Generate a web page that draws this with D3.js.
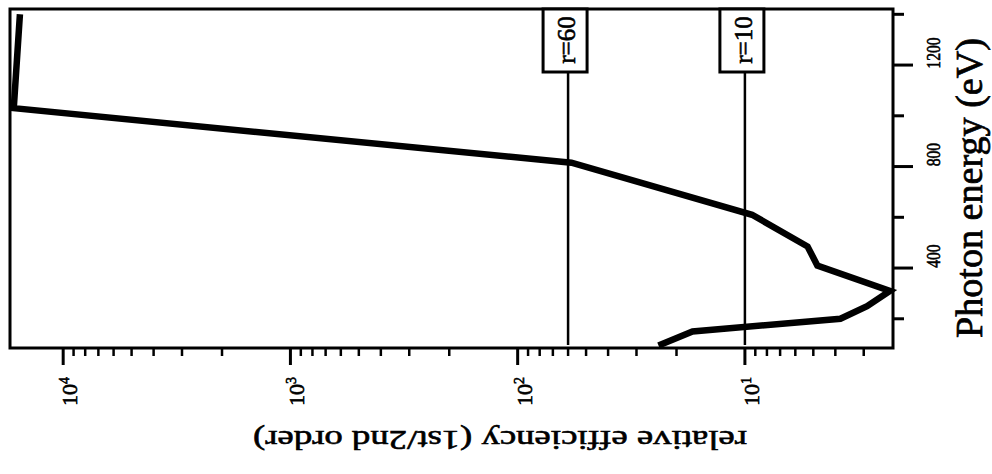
<!DOCTYPE html>
<html><head><meta charset="utf-8">
<script src="https://cdn.jsdelivr.net/npm/d3@7"></script>
<style>body{margin:0;background:#fff}svg{display:block}</style>
</head><body>
<svg id="chart" width="992" height="474"></svg>
<script>
// Ratio of 1st to 2nd order efficiency vs photon energy (plot drawn rotated)
const energy     = [95, 150, 200, 250, 310, 410, 485, 610, 815, 1030, 1400];
const efficiency = [24, 17, 3.8, 2.9, 2.3, 4.8, 5.3, 9.3, 58, 16500, 15500];
const energyTicks  = [200, 400, 600, 800, 1000, 1200, 1400];
const energyLabels = [400, 800, 1200];
const decades = [1, 2, 3, 4];
const markerValues = [60, 10];
const markerLabels = ["r=60", "r=10"];

const svg = d3.select("#chart");
const font = "'Liberation Serif','Times New Roman',serif";

const box = {left: 10, right: 893, top: 9, bottom: 348};

// energy runs vertically, efficiency (log) runs right-to-left
const y = d3.scaleLinear().domain([77, 1417]).range([350, 10]);
const x = d3.scaleLog().domain([17140, 2.23]).range([box.left, box.right]);

// heavier text strokes
function ink(sel, w) {
  return sel.attr("fill", "#000").attr("stroke", "#000").attr("stroke-width", w);
}

// curve
const line = d3.line().x((d, i) => x(efficiency[i])).y(d => y(d));
svg.append("path")
  .attr("d", line(energy))
  .attr("fill", "none").attr("stroke", "#000")
  .attr("stroke-width", 6.5).attr("stroke-linejoin", "miter").attr("stroke-miterlimit", 6);

// frame
svg.append("rect")
  .attr("x", box.left).attr("y", box.top)
  .attr("width", box.right - box.left).attr("height", box.bottom - box.top)
  .attr("fill", "none").attr("stroke", "#000").attr("stroke-width", 3);

// efficiency axis ticks (log, major at decades)
const logTicks = [];
for (let k = 0; k <= 4; k++) {
  for (let m = 1; m <= 9; m++) {
    const v = m * Math.pow(10, k);
    if (v <= 17140 && v >= 2.23) logTicks.push({v, major: m === 1});
  }
}
svg.append("g").selectAll("line").data(logTicks).join("line")
  .attr("x1", d => x(d.v)).attr("x2", d => x(d.v))
  .attr("y1", box.bottom).attr("y2", d => box.bottom + (d.major ? 17 : 8))
  .attr("stroke", "#000").attr("stroke-width", d => d.major ? 3 : 2.5);

const decLabel = ink(svg.append("g").selectAll("text").data(decades).join("text")
  .attr("transform", d => `translate(${x(Math.pow(10, d)) + 14},406) rotate(-90)`)
  .attr("font-family", font).attr("font-size", 22), 0.6);
decLabel.append("tspan").text("10");
decLabel.append("tspan").attr("dy", -8).attr("font-size", 14).text(d => d);

// energy axis ticks
svg.append("g").selectAll("line").data(energyTicks).join("line")
  .attr("x1", box.right).attr("x2", d => box.right + (energyLabels.includes(d) ? 20 : 11))
  .attr("y1", d => y(d)).attr("y2", d => y(d))
  .attr("stroke", "#000").attr("stroke-width", 3);

ink(svg.append("g").selectAll("text").data(energyLabels).join("text")
  .attr("transform", d => `translate(940,${y(d) - 12}) rotate(-90)`)
  .attr("text-anchor", "middle")
  .attr("font-family", font).attr("font-size", 19)
  .attr("textLength", d => String(d).length * 7.8).attr("lengthAdjust", "spacingAndGlyphs")
  .text(d => d), 0.6);

// axis titles
ink(svg.append("text")
  .attr("transform", "translate(982,188) rotate(-90)")
  .attr("text-anchor", "middle")
  .attr("font-family", font).attr("font-size", 37)
  .attr("textLength", 300).attr("lengthAdjust", "spacingAndGlyphs")
  .text("Photon energy (eV)"), 0.7);

ink(svg.append("text")
  .attr("transform", "translate(500,431) rotate(180)")
  .attr("text-anchor", "middle")
  .attr("font-family", font).attr("font-size", 28)
  .attr("textLength", 494).attr("lengthAdjust", "spacingAndGlyphs")
  .text("relative efficiency (1st/2nd order)"), 0.6);

// grating ratio markers
const mk = svg.append("g").selectAll("g").data(markerValues).join("g");
mk.append("line")
  .attr("x1", d => x(d)).attr("x2", d => x(d))
  .attr("y1", 72).attr("y2", 345)
  .attr("stroke", "#000").attr("stroke-width", 2.5);
mk.append("rect")
  .attr("x", d => x(d) - 25).attr("y", box.top)
  .attr("width", 44).attr("height", 63)
  .attr("fill", "#fff").attr("stroke", "#000").attr("stroke-width", 3);
ink(mk.append("text")
  .attr("transform", d => `translate(${x(d) + 7},40) rotate(-90)`)
  .attr("text-anchor", "middle")
  .attr("font-family", font).attr("font-size", 25)
  .text((d, i) => markerLabels[i]), 0.6);
</script>
</body></html>
